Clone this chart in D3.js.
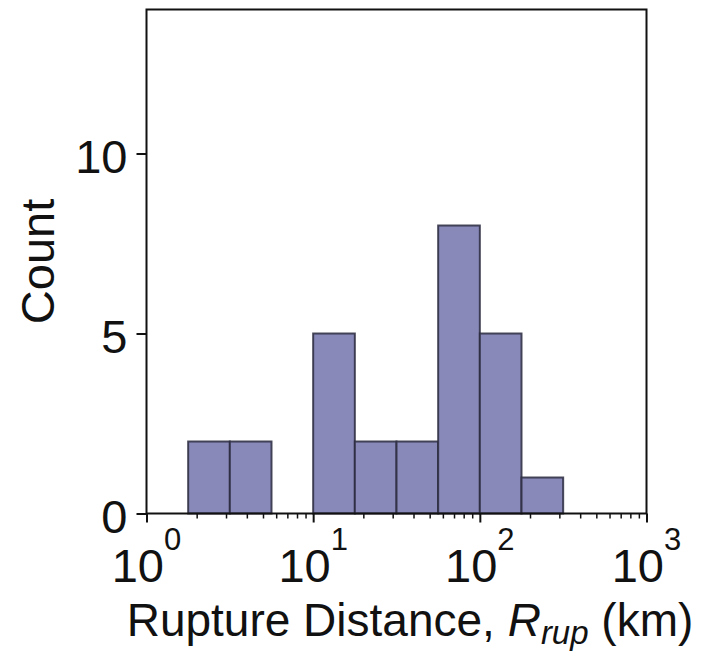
<!DOCTYPE html>
<html>
<head>
<meta charset="utf-8">
<script src="https://cdn.jsdelivr.net/npm/d3@7"></script>
<style>
  html, body { margin: 0; padding: 0; background: #fff; }
  svg { display: block; font-family: "Liberation Sans", Arial, sans-serif; }
</style>
</head>
<body>
<svg id="chart" width="705" height="654"></svg>
<script>
// Histogram of rupture distances, log-spaced bins (quarter-decade width)
const binEdgesExp = [0.25, 0.5, 0.75, 1.0, 1.25, 1.5, 1.75, 2.0, 2.25, 2.5];
const binCounts   = [2, 2, 0, 5, 2, 2, 8, 5, 1];
const xDecades    = [0, 1, 2, 3];
const yTicks      = [0, 5, 10];

const W = 705, H = 654;
const margin = { left: 146.5, top: 9.5, right: W - 646.5, bottom: H - 513.5 };
const FONT = 47;
const svg = d3.select("#chart");

const x = d3.scaleLog().domain([1, 1000]).range([margin.left, W - margin.right]);
const y = d3.scaleLinear().domain([0, 14]).range([H - margin.bottom, margin.top]);

const bins = binCounts.map((c, i) => ({
  x0: Math.pow(10, binEdgesExp[i]),
  x1: Math.pow(10, binEdgesExp[i + 1]),
  count: c
}));

// bars
svg.append("g")
  .selectAll("rect")
  .data(bins.filter(d => d.count > 0))
  .join("rect")
  .attr("x", d => x(d.x0))
  .attr("y", d => y(d.count))
  .attr("width", d => x(d.x1) - x(d.x0))
  .attr("height", d => y(0) - y(d.count))
  .attr("fill", "#8989b9")
  .attr("stroke", "#2a2a40")
  .attr("stroke-opacity", 0.85)
  .attr("stroke-width", 2);

// frame
svg.append("rect")
  .attr("x", margin.left).attr("y", margin.top)
  .attr("width", W - margin.left - margin.right)
  .attr("height", H - margin.top - margin.bottom)
  .attr("fill", "none").attr("stroke", "#111").attr("stroke-width", 2);

// x axis: major and minor ticks
const minor = [];
for (let e = 0; e < 3; e++) for (let m = 2; m <= 9; m++) minor.push(m * Math.pow(10, e));

const xAxisMajor = d3.axisBottom(x).tickValues(xDecades.map(e => Math.pow(10, e)))
  .tickSize(9).tickFormat("");
const xAxisMinor = d3.axisBottom(x).tickValues(minor).tickSize(5).tickFormat("");

const gxMaj = svg.append("g").attr("transform", `translate(0,${y(0)})`).call(xAxisMajor);
const gxMin = svg.append("g").attr("transform", `translate(0,${y(0)})`).call(xAxisMinor);
[gxMaj, gxMin].forEach(g => {
  g.select(".domain").remove();
  g.selectAll("line").attr("stroke", "#111").attr("stroke-width", 2);
});
gxMin.selectAll("line").attr("stroke-width", 1.5);

// x tick labels as 10 with superscript exponent
const xl = svg.append("g");
xDecades.forEach(e => {
  const t = xl.append("text")
    .attr("x", x(Math.pow(10, e)))
    .attr("y", 582)
    .attr("text-anchor", "middle")
    .attr("font-size", FONT)
    .attr("fill", "#111");
  t.append("tspan").text("10");
  t.append("tspan").attr("dy", -32).attr("font-size", 31).text(String(e));
});

// y axis
const yAxis = d3.axisLeft(y).tickValues(yTicks).tickSize(10).tickPadding(9).tickFormat(d3.format("d"));
const gy = svg.append("g").attr("transform", `translate(${margin.left},0)`).call(yAxis);
gy.select(".domain").remove();
gy.selectAll("line").attr("stroke", "#111").attr("stroke-width", 2);
gy.selectAll("text").attr("font-size", FONT).attr("fill", "#111").attr("dy", "0.4em")
  .attr("font-family", "Liberation Sans, Arial, sans-serif");

// axis titles
const xt = svg.append("text")
  .attr("x", 410)
  .attr("y", 636)
  .attr("text-anchor", "middle")
  .attr("font-size", 46)
  .attr("fill", "#111");
xt.append("tspan").text("Rupture Distance, ");
xt.append("tspan").attr("font-style", "italic").text("R");
xt.append("tspan").attr("font-style", "italic").attr("font-size", 33).attr("dy", 8).text("rup");
xt.append("tspan").attr("dy", -8).text(" (km)");

svg.append("text")
  .attr("transform", `translate(54,${(margin.top + H - margin.bottom) / 2}) rotate(-90)`)
  .attr("text-anchor", "middle")
  .attr("font-size", FONT)
  .attr("fill", "#111")
  .text("Count");
</script>
</body>
</html>
